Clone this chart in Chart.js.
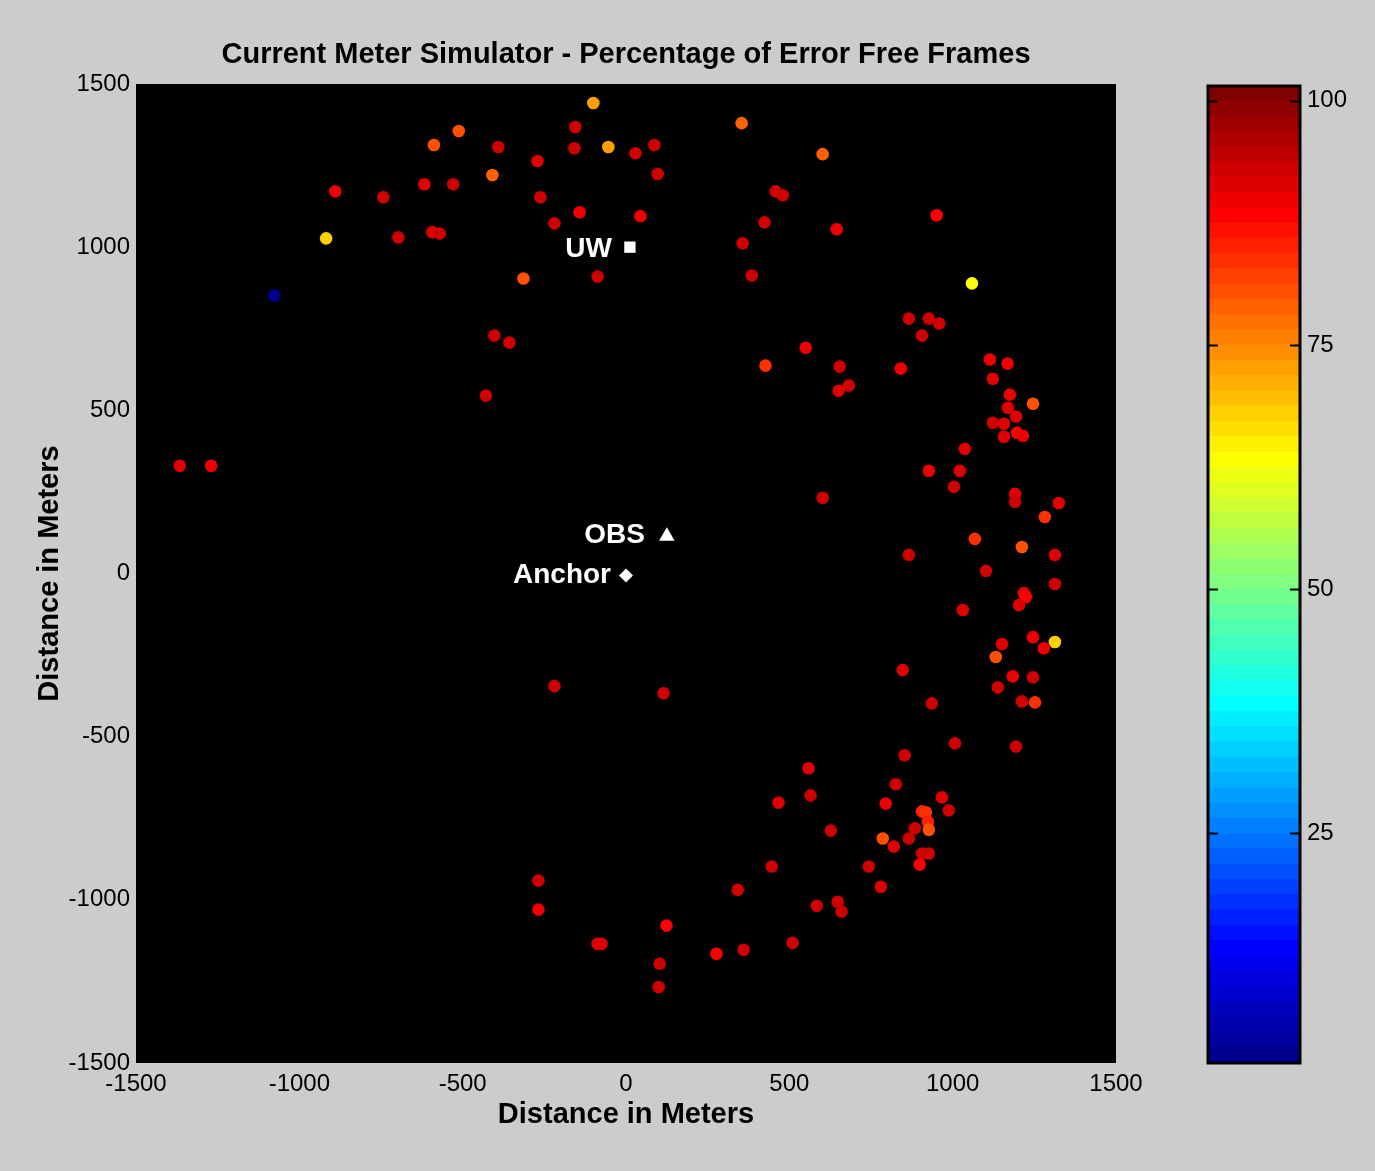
<!DOCTYPE html>
<html>
<head>
<meta charset="utf-8">
<title>Current Meter Simulator - Percentage of Error Free Frames</title>
<script src="https://cdn.jsdelivr.net/npm/chart.js@4.4.1/dist/chart.umd.min.js"></script>
<style>
  html, body { margin: 0; padding: 0; background: #cccccc; }
  #wrap { position: relative; width: 1375px; height: 1171px; overflow: hidden; }
  #main { position: absolute; left: 0; top: 0; width: 1375px; height: 1171px; }
  #cbar { position: absolute; left: 1190px; top: 0; width: 185px; height: 1171px; }
</style>
</head>
<body>
<div id="wrap">
  <canvas id="main" width="1375" height="1171"></canvas>
  <canvas id="cbar" width="185" height="1171"></canvas>
</div>
<script>
// meter positions (m) and percentage of error free frames
const xs = [
  -100, 354, -512, -588, -391, -155, -158, -54, 29, 87,
  97, 602, -271, -409, -617, -529, -890, -743, -262, -142,
  -219, 44, 458, 480, 424, 645, 951, -918, -697, -593,
  -570, 357, -314, -87, 385, 1059, -1077, 866, 927, 959,
  906, -403, -357, 550, 427, 654, 682, 651, 841, 1114,
  1168, 1123, 1175, 1246, 1169, 1194, 1123, 1157, 1197, 1215,
  1157, -429, 1037, 927, 1022, 1004, 602, 1191, 1191, 1325,
  1282, 1068, 1212, 866, 1313, 1102, 1313, 1218, 1224, 1203,
  1031, -1366, -1270, 1246, 1313, 1279, 1151, 1132, 1184, 1246,
  1138, 847, 1212, 1252, 936, -219, 115, 1007, 1194, 853,
  559, 565, 467, 826, 795, 967, 988, 906, 918, 924,
  927, 884, 866, 786, 820, 906, 927, 899, 627, 743,
  780, 648, 660, 446, -268, -268, 342, 584, 124, -87,
  -75, 510, 360, 277, 103, 100
];
const ys = [
  1442, 1380, 1356, 1313, 1307, 1368, 1303, 1307, 1288, 1313,
  1224, 1285, 1264, 1221, 1193, 1193, 1171, 1153, 1153, 1107,
  1073, 1095, 1171, 1159, 1076, 1055, 1098, 1027, 1030, 1046,
  1042, 1012, 904, 910, 913, 889, 852, 781, 781, 766,
  729, 729, 708, 692, 637, 634, 576, 560, 628, 656,
  643, 597, 548, 520, 508, 481, 462, 459, 431, 422,
  419, 545, 382, 315, 315, 266, 232, 244, 220, 216,
  173, 106, 81, 57, 57, 8, -32, -60, -72, -97,
  -112, 330, 330, -195, -210, -229, -216, -256, -315, -318,
  -349, -296, -392, -395, -398, -345, -367, -520, -530, -557,
  -597, -680, -702, -646, -705, -686, -726, -729, -732, -760,
  -785, -781, -812, -812, -837, -858, -858, -892, -788, -898,
  -960, -1006, -1036, -898, -941, -1030, -969, -1018, -1079, -1135,
  -1135, -1132, -1153, -1165, -1196, -1267
];
const pct = [
  72, 79, 80, 80, 93, 93, 93, 72, 93, 93,
  93, 79, 91, 79, 91, 93, 90, 93, 93, 90,
  93, 90, 93, 93, 93, 90, 88, 68, 93, 91,
  93, 93, 80, 93, 93, 63, 2, 93, 93, 93,
  93, 93, 93, 90, 84, 93, 93, 91, 90, 89,
  90, 92, 90, 80, 91, 92, 93, 92, 88, 90,
  92, 93, 92, 90, 92, 93, 93, 92, 93, 91,
  83, 84, 80, 93, 92, 93, 93, 89, 88, 91,
  92, 92, 89, 89, 68, 89, 92, 81, 90, 93,
  93, 92, 93, 84, 93, 93, 93, 93, 93, 93,
  91, 93, 92, 93, 89, 91, 93, 85, 83, 85,
  81, 93, 93, 80, 91, 93, 93, 88, 93, 93,
  91, 93, 93, 93, 93, 89, 93, 93, 88, 92,
  92, 93, 93, 88, 93, 93
];

// fixed stations
const stationNames = ["UW", "OBS", "Anchor"];
const stationX = [12, 125, 0];
const stationY = [1000, 114, -6];

const axisTicks = [-1500, -1000, -500, 0, 500, 1000, 1500];
const cbarTicks = [25, 50, 75, 100];
const CMIN = 1.5;
const CMAX = 101.5;
const NCOLORS = 64;

const TITLE = "Current Meter Simulator - Percentage of Error Free Frames";
const AXIS_LABEL = "Distance in Meters";
const FONT = "'Liberation Sans', Arial, Helvetica, sans-serif";

Chart.defaults.font.family = FONT;
Chart.defaults.color = "#000";

// matlab jet(m)
function jetMap(m) {
  const n = Math.ceil(m / 4);
  const u = [];
  for (let i = 1; i <= n; i++) u.push(i / n);
  for (let i = 1; i < n; i++) u.push(1);
  for (let i = n; i >= 1; i--) u.push(i / n);
  const gOff = Math.ceil(n / 2) - (m % 4 === 1 ? 1 : 0);
  const J = Array.from({ length: m }, () => [0, 0, 0]);
  u.forEach((val, k) => {
    const g = gOff + k + 1;
    const r = g + n;
    const b = g - n;
    if (r <= m) J[r - 1][0] = val;
    if (g <= m) J[g - 1][1] = val;
    if (b >= 1) J[b - 1][2] = val;
  });
  return J.map((c) => `rgb(${Math.round(c[0] * 255)},${Math.round(c[1] * 255)},${Math.round(c[2] * 255)})`);
}
const jet = jetMap(NCOLORS);

const colorFor = (v) => {
  const idx = Math.floor(((v - CMIN) / (CMAX - CMIN)) * NCOLORS);
  return jet[Math.min(NCOLORS - 1, Math.max(0, idx))];
};

const points = xs.map((x, i) => ({ x: x, y: ys[i] }));
const stations = stationX.map((x, i) => ({ x: x, y: stationY[i] }));

const AXIS_W = 103;
const plainTick = (v) => String(v);

const plotBackground = {
  id: "plotBackground",
  beforeDatasetsDraw(chart) {
    const { ctx, chartArea } = chart;
    ctx.save();
    ctx.fillStyle = "#000";
    ctx.fillRect(chartArea.left, chartArea.top, chartArea.width, chartArea.height);
    ctx.restore();
  },
};

// text left of each station marker
const labelGap = { UW: 18, OBS: 22, Anchor: 15 };
const labelShift = { UW: 2, OBS: -1, Anchor: 0 };
const stationLabels = {
  id: "stationLabels",
  afterDatasetsDraw(chart) {
    const { ctx } = chart;
    const meta = chart.getDatasetMeta(0);
    ctx.save();
    ctx.font = "bold 28px " + FONT;
    ctx.fillStyle = "#fff";
    ctx.textAlign = "right";
    ctx.textBaseline = "middle";
    meta.data.forEach((el, i) => {
      const name = stationNames[i];
      ctx.fillText(name, el.x - labelGap[name], el.y + labelShift[name]);
    });
    ctx.restore();
  },
};

new Chart(document.getElementById("main"), {
  type: "scatter",
  data: {
    datasets: [
      {
        label: "stations",
        data: stations,
        pointStyle: ["rect", "triangle", "rectRot"],
        pointRadius: [8, 9, 7],
        backgroundColor: "#fff",
        borderWidth: 0,
      },
      {
        label: "frames",
        data: points,
        backgroundColor: pct.map(colorFor),
        pointRadius: 6.3,
        borderWidth: 0,
      },
    ],
  },
  options: {
    responsive: false,
    animation: false,
    events: [],
    layout: { padding: { left: 33, right: 156, top: 0, bottom: 38.6 } },
    plugins: {
      legend: { display: false },
      tooltip: { enabled: false },
      title: {
        display: true,
        text: TITLE,
        color: "#000",
        font: { size: 29, weight: "bold" },
        padding: { top: 37.3, bottom: 11.9 },
      },
    },
    scales: {
      x: {
        type: "linear",
        min: -1500,
        max: 1500,
        afterBuildTicks: (s) => { s.ticks = axisTicks.map((v) => ({ value: v })); },
        ticks: { font: { size: 24 }, padding: 7, maxRotation: 0, autoSkip: false, callback: plainTick },
        grid: { display: false, drawTicks: false },
        border: { display: false },
        title: { display: true, text: AXIS_LABEL, font: { size: 29, weight: "bold" }, padding: 0 },
        afterFit: (s) => { s.height = 69.4; },
      },
      y: {
        type: "linear",
        position: "left",
        min: -1500,
        max: 1500,
        afterBuildTicks: (s) => { s.ticks = axisTicks.map((v) => ({ value: v })); },
        ticks: { font: { size: 24 }, padding: 6, autoSkip: false, callback: plainTick },
        grid: { display: false, drawTicks: false },
        border: { display: false },
        title: { display: true, text: AXIS_LABEL, font: { size: 29, weight: "bold" }, padding: 0 },
        afterFit: (s) => { s.width = AXIS_W; },
      },
      // empty axis so the title centres over the plot
      yMirror: {
        type: "linear",
        position: "right",
        display: true,
        ticks: { display: false },
        grid: { display: false, drawTicks: false },
        border: { display: false },
        afterFit: (s) => { s.width = AXIS_W; },
      },
    },
  },
  plugins: [plotBackground, stationLabels],
});

// colour bar
const bandStep = (CMAX - CMIN) / NCOLORS;
const bands = jet.map((c, k) => ({
  data: [[CMIN + k * bandStep, CMIN + (k + 1) * bandStep + 0.05]],
  backgroundColor: c,
  borderWidth: 0,
  grouped: false,
  barPercentage: 1,
  categoryPercentage: 1,
  yAxisID: "y",
}));

const cbarFrame = {
  id: "cbarFrame",
  afterDatasetsDraw(chart) {
    const { ctx, chartArea } = chart;
    const scale = chart.scales.y;
    ctx.save();
    ctx.strokeStyle = "#000";
    ctx.lineWidth = 2;
    scale.ticks.forEach((t) => {
      const py = Math.round(scale.getPixelForValue(t.value)) + 0.5;
      ctx.beginPath();
      ctx.moveTo(chartArea.left, py);
      ctx.lineTo(chartArea.left + 10, py);
      ctx.moveTo(chartArea.right - 10, py);
      ctx.lineTo(chartArea.right, py);
      ctx.stroke();
    });
    ctx.lineWidth = 3;
    ctx.strokeRect(chartArea.left, chartArea.top, chartArea.width, chartArea.height);
    ctx.restore();
  },
};

new Chart(document.getElementById("cbar"), {
  type: "bar",
  data: { labels: [""], datasets: bands },
  options: {
    responsive: false,
    animation: false,
    events: [],
    layout: { padding: { left: 0, right: 0, top: 86, bottom: 108 } },
    plugins: { legend: { display: false }, tooltip: { enabled: false } },
    scales: {
      x: { display: false },
      y: {
        type: "linear",
        position: "right",
        min: CMIN,
        max: CMAX,
        afterBuildTicks: (s) => { s.ticks = cbarTicks.map((v) => ({ value: v })); },
        ticks: { font: { size: 24 }, padding: 7, callback: plainTick },
        grid: { display: false, drawTicks: false },
        border: { display: false },
        afterFit: (s) => { s.width = 75; },
      },
      yLeft: {
        type: "linear",
        position: "left",
        min: CMIN,
        max: CMAX,
        ticks: { display: false },
        grid: { display: false, drawTicks: false },
        border: { display: false },
        afterFit: (s) => { s.width = 18; },
      },
    },
  },
  plugins: [cbarFrame],
});
</script>
</body>
</html>
